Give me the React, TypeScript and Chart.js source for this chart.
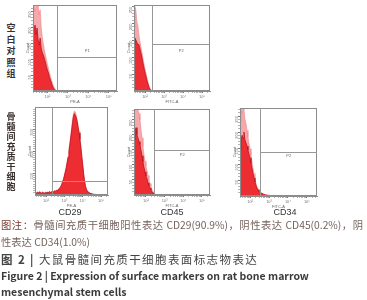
import React, { useEffect, useRef } from "react";
import { Chart, registerables } from "chart.js";

Chart.register(...registerables);

// ---------- data ----------
const X_TICKS = [2, 3, 4, 5];
const X_TICK_LABELS = ["10²", "10³", "10⁴", "10⁵"];
const Y_TICKS_A = [50, 100, 150, 200, 250];
const Y_TICK_LABELS_A = ["50", "100", "150", "200", "250"];
const Y_TICKS_B = [100, 200, 300];
const Y_TICK_LABELS_B = ["100", "200", "300"];

const ROW_LABELS = ["空白对照组", "骨髓间充质干细胞"];
const MARKERS = ["CD29", "CD45", "CD34"];

// blank control, PE-A
const BLANK_PE_X = [1.3, 1.35, 1.4, 1.45, 1.5, 1.55, 1.6, 1.65, 1.7, 1.75, 1.8, 1.85, 1.9, 1.95, 2.0, 2.05, 2.1, 2.15, 2.2, 2.25, 2.3, 2.35, 2.4, 2.45, 2.5];
const BLANK_PE_RED = [160, 191, 207, 176, 198, 160, 144, 166, 135, 122, 113, 104, 91, 78, 66, 57, 44, 35, 25, 16, 9, 5, 2, 0, 0];
const BLANK_PE_PINK = [230, 270, 250, 270, 265, 270, 240, 255, 200, 170, 150, 130, 115, 100, 85, 72, 58, 46, 34, 24, 15, 9, 4, 1, 0];

// blank control, FITC-A
const BLANK_FITC_X = [1.42, 1.47, 1.52, 1.57, 1.62, 1.67, 1.72, 1.77, 1.82, 1.87, 1.92, 1.97, 2.02, 2.07, 2.12, 2.17, 2.22, 2.27, 2.32, 2.37, 2.42];
const BLANK_FITC_RED = [136, 157, 151, 145, 136, 139, 128, 116, 104, 89, 74, 62, 50, 39, 27, 18, 10, 4, 1.5, 0, 0];
const BLANK_FITC_PINK = [190, 250, 240, 205, 195, 170, 150, 135, 120, 105, 88, 74, 60, 48, 35, 24, 14, 7, 3, 1, 0];

// CD29, PE-A
const CD29_X = [1.4, 1.45, 1.5, 1.55, 1.6, 1.65, 1.7, 1.75, 1.8, 1.85, 1.9, 1.95, 2.0, 2.05, 2.1, 2.15, 2.2, 2.25, 2.3, 2.35, 2.4, 2.45, 2.5, 2.55, 2.6, 2.65, 2.7, 2.75, 2.8, 2.85, 2.9, 2.95, 3.0, 3.05, 3.1, 3.15, 3.2, 3.25, 3.3, 3.35, 3.4, 3.45, 3.5, 3.55, 3.6, 3.65, 3.7, 3.75, 3.8, 3.85, 3.9, 3.95, 4.0, 4.05, 4.1, 4.15, 4.2, 4.25, 4.3, 4.35, 4.4, 4.45, 4.5, 4.55, 4.6, 4.7, 4.8, 4.9, 5.0];
const CD29_RED = [6, 10, 8, 12, 9, 14, 11, 8, 12, 10, 7, 11, 9, 13, 10, 12, 15, 11, 14, 16, 13, 18, 16, 20, 19, 24, 26, 31, 38, 46, 58, 70, 86, 104, 122, 146, 170, 198, 230, 262, 296, 330, 358, 370, 362, 352, 334, 308, 282, 252, 218, 176, 138, 98, 64, 40, 26, 18, 13, 10, 8, 6, 5, 4, 3, 2, 1, 1, 0];
const CD29_PINK = [8, 12, 10, 14, 11, 16, 13, 10, 14, 12, 9, 13, 11, 15, 12, 14, 17, 13, 16, 18, 15, 20, 18, 22, 21, 26, 28, 33, 40, 49, 61, 74, 90, 108, 128, 152, 176, 205, 238, 272, 305, 345, 372, 382, 378, 360, 340, 315, 288, 258, 224, 182, 142, 102, 67, 42, 28, 20, 15, 12, 9, 7, 6, 5, 4, 3, 2, 1, 0];

// CD45, FITC-A
const CD45_X = [1.36, 1.41, 1.47, 1.52, 1.57, 1.63, 1.68, 1.73, 1.79, 1.84, 1.89, 1.95, 2.0, 2.06, 2.11, 2.16, 2.22, 2.27, 2.32, 2.38, 2.43, 2.48, 2.59];
const CD45_RED = [183, 210, 223, 200, 190, 177, 167, 150, 130, 110, 93, 77, 63, 53, 40, 30, 23, 17, 10, 7, 3, 2, 0];
const CD45_PINK = [285, 280, 285, 285, 282, 270, 250, 220, 190, 160, 135, 112, 95, 80, 65, 50, 38, 28, 18, 11, 6, 3, 0];

// CD34, FITC-A
const CD34_X = [1.47, 1.52, 1.58, 1.63, 1.68, 1.73, 1.79, 1.84, 1.89, 1.94, 2.0, 2.05, 2.1, 2.15, 2.21, 2.26, 2.31, 2.36, 2.42, 2.47, 2.52, 2.63, 2.73, 2.84, 3.05, 3.26];
const CD34_RED = [144, 175, 190, 181, 200, 175, 166, 156, 144, 131, 119, 103, 88, 72, 56, 44, 34, 25, 19, 14, 11, 8, 5, 3, 1.5, 0];
const CD34_PINK = [230, 275, 260, 275, 270, 240, 225, 205, 185, 165, 148, 128, 108, 88, 70, 54, 41, 30, 22, 16, 12, 8, 5, 3, 1.5, 0];

// axis ranges (log10 units on x, counts on y) and gates
const X_RANGES = [[1.3, 5.4], [1.42, 5.42], [1.4, 5.38], [1.36, 5.43], [1.47, 5.53]];
const Y_MAXES = [270, 255, 400, 285, 275];
const GATE_X = [2.45, 2.37, 2.33, 2.43, 2.53];
const GATE_Y = [107, 139, 64, 150, 137];
const GATE_LABEL_Y = [125, 118, 0, 132, 124];
const GATE_LABELS = ["P1", "P2", "", "P2", "P2"];
const X_TITLES = ["PE-A", "FITC-A", "PE-A", "FITC-A", "FITC-A"];

// ---------- layout / style ----------
const BOXES = [
  { left: 25, top: 1, w: 95, h: 103 },
  { left: 126, top: 1, w: 87, h: 103 },
  { left: 27, top: 103, w: 84, h: 105 },
  { left: 126, top: 105, w: 87, h: 103 },
  { left: 232, top: 104, w: 88, h: 105 },
];
const PAD_TOP = 4;
const PAD_RIGHT = 3;
const Y_AXIS_W = 8;
const X_AXIS_H = 13;
const RED = "rgb(237,45,50)";
const RED_EDGE = "rgb(185,20,30)";
const PINK = "rgb(246,168,170)";
const PINK_EDGE = "rgb(240,130,135)";
const AXIS = "#8c8c8c";
const TICK_FONT = { size: 4, family: "Liberation Sans" };

type PanelData = {
  x: number[];
  red: number[];
  pink: number[];
  yTicks: number[];
  yLabels: string[];
};

const PANELS: PanelData[] = [
  { x: BLANK_PE_X, red: BLANK_PE_RED, pink: BLANK_PE_PINK, yTicks: Y_TICKS_A, yLabels: Y_TICK_LABELS_A },
  { x: BLANK_FITC_X, red: BLANK_FITC_RED, pink: BLANK_FITC_PINK, yTicks: Y_TICKS_A, yLabels: Y_TICK_LABELS_A },
  { x: CD29_X, red: CD29_RED, pink: CD29_PINK, yTicks: Y_TICKS_B, yLabels: Y_TICK_LABELS_B },
  { x: CD45_X, red: CD45_RED, pink: CD45_PINK, yTicks: Y_TICKS_A, yLabels: Y_TICK_LABELS_A },
  { x: CD34_X, red: CD34_RED, pink: CD34_PINK, yTicks: Y_TICKS_A, yLabels: Y_TICK_LABELS_A },
];

const framePlugin = {
  id: "frame",
  afterDatasetsDraw(chart: any, _args: any, opts: any) {
    const { ctx, chartArea: a, scales } = chart;
    ctx.save();
    ctx.strokeStyle = AXIS;
    ctx.lineWidth = 1;
    ctx.strokeRect(Math.round(a.left) + 0.5, Math.round(a.top) + 0.5, Math.round(a.width) - 1, Math.round(a.height) - 1);
    const gx = Math.round(scales.x.getPixelForValue(opts.gateX)) + 0.5;
    const gy = Math.round(scales.y.getPixelForValue(opts.gateY)) + 0.5;
    ctx.strokeStyle = "#979797";
    ctx.beginPath();
    ctx.moveTo(gx, a.top);
    ctx.lineTo(gx, a.bottom);
    ctx.moveTo(gx, gy);
    ctx.lineTo(a.right, gy);
    ctx.stroke();
    if (opts.label) {
      ctx.fillStyle = "#666";
      ctx.font = "4px Liberation Sans";
      ctx.textAlign = "center";
      ctx.textBaseline = "middle";
      ctx.fillText(opts.label, (gx + a.right) / 2, scales.y.getPixelForValue(opts.labelY));
    }
    ctx.restore();
  },
};

function zeroPad(s: any) {
  s.paddingLeft = 0;
  s.paddingRight = 0;
  s.paddingTop = 0;
  s.paddingBottom = 0;
}

function makeConfig(i: number): any {
  const p = PANELS[i];
  const [xMin, xMax] = X_RANGES[i];
  const yMax = Y_MAXES[i];
  const xTickList: any[] = [];
  for (let d = 1; d <= 5; d++) {
    for (let k = 1; k <= 9; k++) {
      const v = d + Math.log10(k);
      if (v >= xMin && v <= xMax) xTickList.push({ value: v, major: k === 1 });
    }
  }
  const yTickList: any[] = [];
  for (let v = 10; v < yMax; v += 10) {
    yTickList.push({ value: v, major: p.yTicks.includes(v) });
  }
  return {
    type: "line",
    data: {
      datasets: [
        {
          data: p.x.map((x, j) => ({ x, y: p.red[j] })),
          fill: "origin",
          backgroundColor: RED,
          borderColor: RED_EDGE,
          borderWidth: 0.8,
          pointRadius: 0,
          tension: 0,
        },
        {
          data: p.x.map((x, j) => ({ x, y: p.pink[j] })),
          fill: "origin",
          backgroundColor: PINK,
          borderColor: PINK_EDGE,
          borderWidth: 0.6,
          pointRadius: 0,
          tension: 0,
        },
      ],
    },
    options: {
      responsive: false,
      animation: false,
      events: [],
      layout: { padding: { top: PAD_TOP, right: PAD_RIGHT, left: 0, bottom: 0 } },
      plugins: {
        legend: { display: false },
        tooltip: { enabled: false },
        frame: { gateX: GATE_X[i], gateY: GATE_Y[i], label: GATE_LABELS[i], labelY: GATE_LABEL_Y[i] },
      },
      scales: {
        x: {
          type: "linear",
          min: xMin,
          max: xMax,
          afterBuildTicks: (s: any) => {
            s.ticks = xTickList;
          },
          afterFit: (s: any) => {
            s.height = X_AXIS_H;
            zeroPad(s);
          },
          ticks: {
            autoSkip: false,
            minRotation: 0,
            maxRotation: 0,
            padding: 1,
            font: TICK_FONT,
            color: "#777",
            callback: (v: number) => {
              const k = X_TICKS.findIndex((t) => Math.abs(t - v) < 1e-6);
              return k >= 0 ? X_TICK_LABELS[k] : "";
            },
          },
          grid: {
            drawOnChartArea: false,
            tickLength: 2,
            color: (c: any) => (c.tick && c.tick.major ? "#777" : "#b5b5b5"),
          },
          border: { display: true, color: AXIS },
          title: { display: true, text: X_TITLES[i], padding: 0, font: TICK_FONT, color: "#666" },
        },
        y: {
          type: "linear",
          min: 0,
          max: yMax,
          afterBuildTicks: (s: any) => {
            s.ticks = yTickList;
          },
          afterFit: (s: any) => {
            s.width = Y_AXIS_W;
            zeroPad(s);
          },
          ticks: {
            autoSkip: false,
            minRotation: 90,
            maxRotation: 90,
            padding: 1,
            font: TICK_FONT,
            color: "#777",
            callback: (v: number) => {
              const k = p.yTicks.indexOf(v);
              return k >= 0 ? p.yLabels[k] : "";
            },
          },
          grid: {
            drawOnChartArea: false,
            tickLength: 2,
            color: (c: any) => (c.tick && c.tick.major ? "#777" : "#b5b5b5"),
          },
          border: { display: true, color: AXIS },
          title: { display: true, text: "Count", padding: 0, font: TICK_FONT, color: "#666" },
        },
      },
    },
    plugins: [framePlugin],
  };
}

function HistPanel({ index }: { index: number }) {
  const ref = useRef<HTMLCanvasElement>(null);
  const b = BOXES[index];
  useEffect(() => {
    const chart = new Chart(ref.current as HTMLCanvasElement, makeConfig(index));
    return () => chart.destroy();
  }, [index]);
  return (
    <canvas
      ref={ref}
      width={b.w}
      height={b.h}
      style={{ position: "absolute", left: b.left, top: b.top, width: b.w, height: b.h }}
    />
  );
}

function VerticalLabel({ text, top, pitch }: { text: string; top: number; pitch: number }) {
  return (
    <div style={{ position: "absolute", left: 5, top, width: 12, textAlign: "center" }}>
      {Array.from(text).map((ch, k) => (
        <div
          key={k}
          style={{
            height: pitch,
            lineHeight: pitch + "px",
            fontSize: 9,
            fontWeight: 700,
            fontFamily: "Noto Sans CJK SC",
            color: "#3a2f2f",
          }}
        >
          {ch}
        </div>
      ))}
    </div>
  );
}

const CAP_FONT = "'Noto Sans CJK SC', 'Noto Sans', sans-serif";

export default function App() {
  return (
    <div
      style={{
        position: "absolute",
        left: 0,
        top: 0,
        width: 367,
        height: 300,
        background: "#fff",
        overflow: "hidden",
      }}
    >
      {PANELS.map((_, i) => (
        <HistPanel key={i} index={i} />
      ))}
      <VerticalLabel text={ROW_LABELS[0]} top={22} pitch={11.5} />
      <VerticalLabel text={ROW_LABELS[1]} top={112} pitch={10} />
      {MARKERS.map((m, k) => (
        <div
          key={m}
          style={{
            position: "absolute",
            left: [70, 172, 285][k] - 20,
            width: 40,
            top: 206,
            textAlign: "center",
            fontSize: 9,
            lineHeight: "12px",
            fontFamily: "Liberation Sans",
            color: "#333",
          }}
        >
          {m}
        </div>
      ))}
      <div
        style={{
          position: "absolute",
          left: 1,
          top: 217,
          width: 362,
          height: 16,
          overflow: "hidden",
          fontSize: 10.3,
          lineHeight: "16px",
          fontFamily: CAP_FONT,
          color: "#76625c",
          textAlign: "justify",
          textAlignLast: "justify" as any,
        }}
      >
        <span style={{ color: "#7b3b2e" }}>图注：</span>骨髓间充质干细胞阳性表达 CD29(90.9%)，阴性表达 CD45(0.2%)，阴
      </div>
      <div
        style={{
          position: "absolute",
          left: 1,
          top: 234,
          fontSize: 10.3,
          lineHeight: "16px",
          fontFamily: CAP_FONT,
          color: "#76625c",
          whiteSpace: "nowrap",
        }}
      >
        性表达 CD34(1.0%)
      </div>
      <div
        style={{
          position: "absolute",
          left: 1,
          top: 251,
          fontSize: 11.5,
          lineHeight: "16px",
          fontFamily: CAP_FONT,
          color: "#444",
          letterSpacing: 1.4,
          whiteSpace: "nowrap",
        }}
      >
        <span style={{ fontWeight: 700 }}>图 2 | </span>大鼠骨髓间充质干细胞表面标志物表达
      </div>
      <div
        style={{
          position: "absolute",
          left: 1,
          top: 268,
          fontSize: 10.5,
          lineHeight: "16px",
          fontFamily: CAP_FONT,
          fontWeight: 700,
          color: "#3a3a3a",
          whiteSpace: "nowrap",
        }}
      >
        Figure 2 | Expression of surface markers on rat bone marrow
      </div>
      <div
        style={{
          position: "absolute",
          left: 1,
          top: 284,
          fontSize: 10.5,
          lineHeight: "16px",
          fontFamily: CAP_FONT,
          fontWeight: 700,
          color: "#3a3a3a",
          whiteSpace: "nowrap",
        }}
      >
        mesenchymal stem cells
      </div>
    </div>
  );
}
